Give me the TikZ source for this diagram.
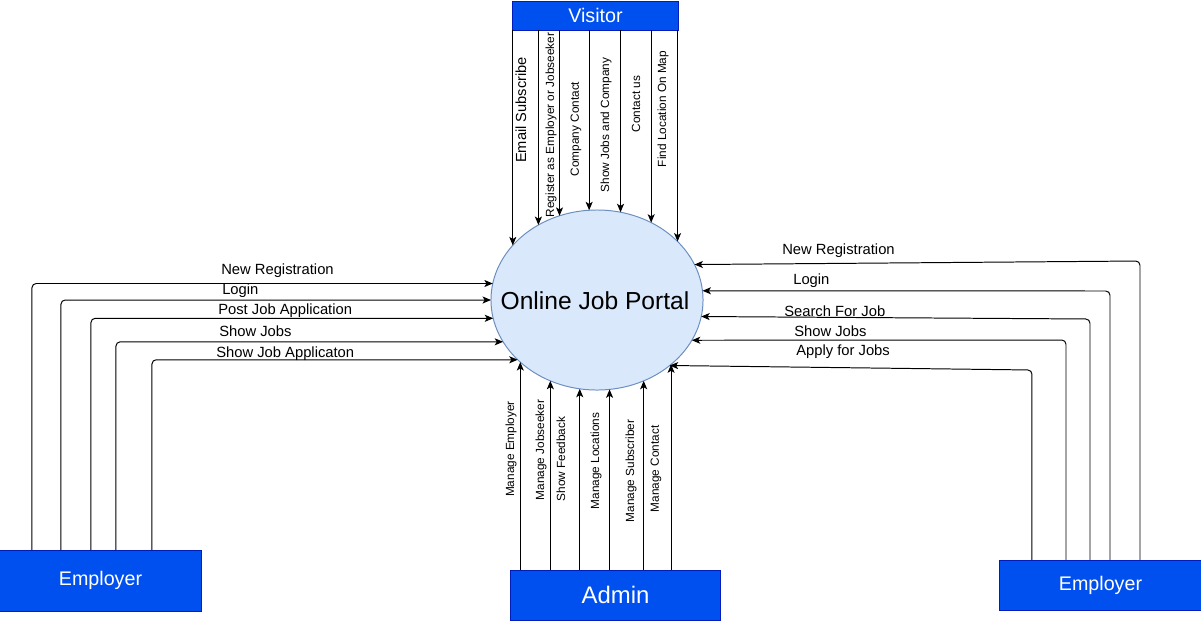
\documentclass[tikz,border=0pt]{standalone}
\usepackage{fontspec}
\setmainfont{Liberation Sans}
\usepackage{tikz}
\usetikzlibrary{arrows.meta,shapes.geometric}
\definecolor{entityfill}{HTML}{0050EF}
\definecolor{entityline}{HTML}{001DBC}
\definecolor{portalfill}{HTML}{DAE8FC}
\definecolor{portalline}{HTML}{6C8EBF}
\tikzset{
	entity/.style={draw=entityline, fill=entityfill, text=white, line width=0.7pt, inner sep=0pt, outer sep=0pt},
	portal/.style={ellipse, draw=portalline, fill=portalfill, line width=0.7pt, minimum width=5.3cm, minimum height=4.5cm, inner sep=0pt, outer sep=0pt},
	flow/.style={line width=0.7pt, rounded corners=3pt, -{Stealth[length=6pt,width=5pt,inset=1.5pt]}},
	hlbl/.style={font=\fontsize{10.5}{12}\selectfont, inner sep=0pt, anchor=west},
	vlbl/.style={font=\fontsize{8.4}{10}\selectfont, inner sep=0pt, rotate=90}
}

\begin{document}
\begin{tikzpicture}[x=0.025cm,y=-0.025cm]
	\useasboundingbox (0,0) rectangle (1201,621);

	% process
	\node[portal] (portal) at (597,300) {};
	\node[font=\fontsize{17.5}{20}\selectfont, inner sep=0pt] (portalname) at (595,301) {Online Job Portal};

	% entities
	\node[entity, minimum width=4.125cm, minimum height=0.725cm, font=\fontsize{14}{16}\selectfont] (visitor) at (595.5,15.5) {Visitor};
	\node[entity, minimum width=5.225cm, minimum height=1.25cm, font=\fontsize{17}{19}\selectfont] (admin) at (615.5,595) {Admin};
	\node[entity, minimum width=5.025cm, minimum height=1.525cm, font=\fontsize{14}{16}\selectfont] (emp1) at (100.5,580.5) {Employer};
	\node[entity, minimum width=5.025cm, minimum height=1.25cm, font=\fontsize{14}{16}\selectfont] (emp2) at (1100.5,585) {Employer};

	% visitor flows
	\foreach \a in {147,128,114,95,75,55,36}
		\draw[flow] (visitor.south -| portal.\a) -- (portal.\a);
	\node[vlbl, font=\fontsize{10.4}{12}\selectfont] (v-email) at (521,110) {Email Subscribe};
	\node[vlbl] (v-register) at (551,125) {Register as Employer or Jobseeker};
	\node[vlbl] (v-company) at (576,129) {Company Contact};
	\node[vlbl] (v-showjobs) at (606,125) {Show Jobs and Company};
	\node[vlbl] (v-contact) at (636,104) {Contact us};
	\node[vlbl] (v-map) at (663,109) {Find Location On Map};

	% admin flows
	\foreach \a in {219,240,259,278,300,319}
		\draw[flow] (admin.north -| portal.\a) -- (portal.\a);
	\node[vlbl] (a-employer) at (511,449) {Manage Employer};
	\node[vlbl] (a-jobseeker) at (541,450) {Manage Jobseeker};
	\node[vlbl] (a-feedback) at (561,459) {Show Feedback};
	\node[vlbl] (a-locations) at (596,461) {Manage Locations};
	\node[vlbl] (a-subscriber) at (631,471) {Manage Subscriber};
	\node[vlbl] (a-contact) at (656,469) {Manage Contact};

	% employer (left) flows
	\foreach \dx/\a in {32/171,61/180,91/190,116/204,152/217}
		\draw[flow] (emp1.north west) ++(\dx,0) |- (portal.\a);
	\node[hlbl] (l-newreg) at (221,271) {New Registration};
	\node[hlbl] (l-login) at (222,291) {Login};
	\node[hlbl] (l-post) at (218,311) {Post Job Application};
	\node[hlbl] (l-showjobs) at (219,331) {Show Jobs};
	\node[hlbl] (l-showapp) at (216,354) {Show Job Applicaton};

	% employer (right) flows
	\foreach \dx/\dy/\a in {140/299/20,110/269/5,90/241/351,66/220/337,32/190/318}
		\draw[flow] (emp2.north west) ++(\dx,0) -- ++(0,-\dy) -- (portal.\a);
	\node[hlbl] (r-newreg) at (782,251) {New Registration};
	\node[hlbl] (r-login) at (793,281) {Login};
	\node[hlbl] (r-search) at (784,311) {Search For Job};
	\node[hlbl] (r-showjobs) at (794,331) {Show Jobs};
	\node[hlbl] (r-apply) at (796,352) {Apply for Jobs};
\end{tikzpicture}
\end{document}
